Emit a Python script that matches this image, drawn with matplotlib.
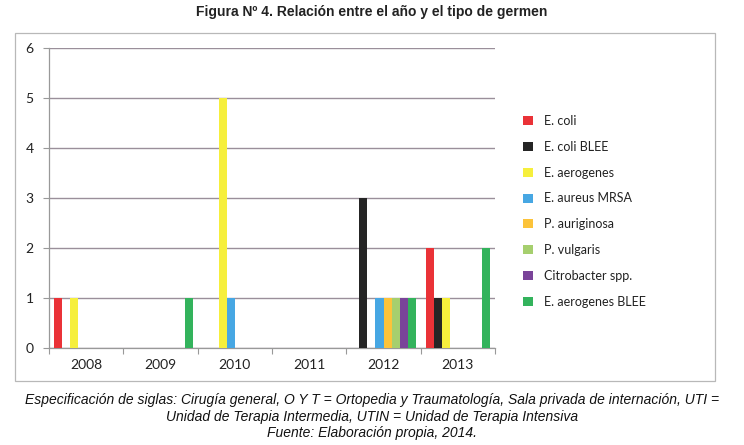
import matplotlib
matplotlib.use("Agg")
import matplotlib.pyplot as plt
import numpy as np
from matplotlib.patches import Rectangle

years = ["2008", "2009", "2010", "2011", "2012", "2013"]
series_names = ["E. coli", "E. coli BLEE", "E. aerogenes", "E. aureus MRSA",
                "P. auriginosa", "P. vulgaris", "Citrobacter spp.", "E. aerogenes BLEE"]
e_coli          = [1, 0, 0, 0, 0, 2]
e_coli_blee     = [0, 0, 0, 0, 3, 1]
e_aerogenes     = [1, 0, 5, 0, 0, 1]
e_aureus_mrsa   = [0, 0, 1, 0, 1, 0]
p_auriginosa    = [0, 0, 0, 0, 1, 0]
p_vulgaris      = [0, 0, 0, 0, 1, 0]
citrobacter     = [0, 0, 0, 0, 1, 0]
e_aerog_blee    = [0, 1, 0, 0, 1, 2]
values = [e_coli, e_coli_blee, e_aerogenes, e_aureus_mrsa,
          p_auriginosa, p_vulgaris, citrobacter, e_aerog_blee]
colors = ["#ea3237", "#252525", "#f6ef3c", "#47a7e3",
          "#fcc33a", "#a6cf6e", "#7a4499", "#33b35c"]

plt.rcParams["font.family"] = ["Lato", "DejaVu Sans"]

fig = plt.figure(figsize=(7.44, 4.45), dpi=100)
W, H = 744, 445

# outer chart frame
fig.patches.append(Rectangle((15 / W, 1 - 381 / H), (715 - 15) / W, (381 - 33) / H,
                             transform=fig.transFigure, fill=False,
                             edgecolor="#b8b8b8", linewidth=0.9))

ax = fig.add_axes([49 / W, 1 - 348 / H, (495 - 49) / W, (348 - 48) / H])
bw = 0.108
x = np.arange(len(years))
start = -0.5 + 0.068
for i, (vals, c, name) in enumerate(zip(values, colors, series_names)):
    ax.bar(x + start + i * bw + bw / 2, vals, width=bw, color=c, label=name,
           zorder=3, linewidth=0)

ax.set_xlim(-0.5, len(years) - 0.5)
ax.set_ylim(0, 6)
ax.set_yticks(range(0, 7))
ax.set_xticks(x)
ax.set_xticklabels(years)
ax.set_xticks(np.arange(-0.5, len(years)), minor=True)
ax.tick_params(axis="x", which="major", length=0, pad=8, labelsize=10, colors="#222222")
ax.tick_params(axis="x", which="minor", length=4, color="#999999", width=0.8)
ax.tick_params(axis="y", length=4, color="#999999", width=0.8, labelsize=10,
               colors="#222222", pad=7)
for lab in ax.get_yticklabels():
    lab.set_color("#222222")
ax.yaxis.grid(True, color="#9a8f9a", linewidth=1.0, zorder=0)
for s in ["top", "right"]:
    ax.spines[s].set_visible(False)
ax.spines["left"].set_color("#999999")
ax.spines["bottom"].set_color("#999999")
ax.spines["left"].set_linewidth(0.9)
ax.spines["bottom"].set_linewidth(0.9)

leg = fig.legend(loc="upper left", bbox_to_anchor=(512 / W, 1 - 104 / H),
                 frameon=False, fontsize=9, handlelength=0.8, handleheight=0.75,
                 labelspacing=1.1, handletextpad=0.9)
for t in leg.get_texts():
    t.set_color("#222222")

fig.text(0.5, 1 - 12 / H, "Figura Nº 4. Relación entre el año y el tipo de germen",
         ha="center", va="center", fontsize=10, fontweight="bold", color="#222222",
         family=["Liberation Sans", "DejaVu Sans"])

cap_font = ["Liberation Sans", "DejaVu Sans"]
caption = ["Especificación de siglas: Cirugía general, O Y T = Ortopedia y Traumatología, Sala privada de internación, UTI =",
           "Unidad de Terapia Intermedia, UTIN = Unidad de Terapia Intensiva",
           "Fuente: Elaboración propia, 2014."]
for k, line in enumerate(caption):
    fig.text(0.5, 1 - (400 + k * 16.5) / H, line, ha="center", va="center",
             fontsize=10, style="italic", family=cap_font, color="#111111")

fig.savefig("out.png", dpi=100)
